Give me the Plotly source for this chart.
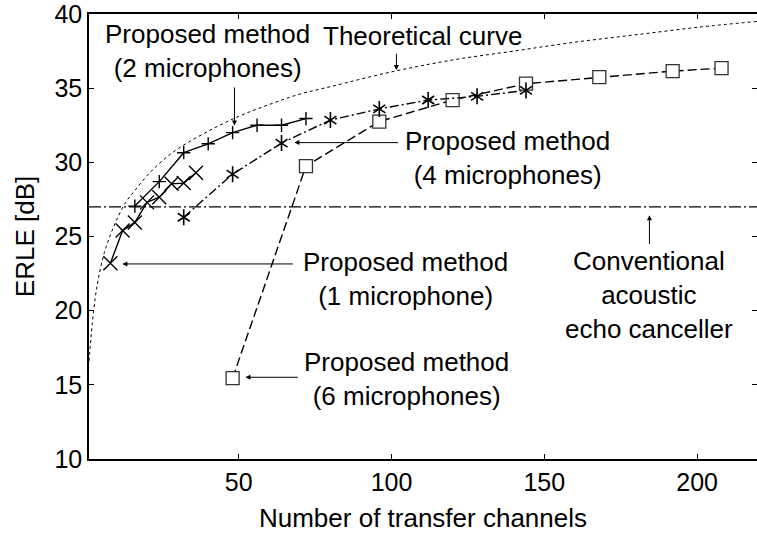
import plotly.graph_objects as go

# ERLE versus number of transfer channels
mic1_x = [8, 12, 16, 20, 24, 28, 32, 36]
mic1_y = [23.2, 25.4, 25.95, 27.3, 27.65, 28.55, 28.6, 29.3]

mic2_x = [16, 24, 32, 40, 48, 56, 64, 72]
mic2_y = [27.05, 28.7, 30.65, 31.25, 32.0, 32.5, 32.5, 32.95]

mic4_x = [32, 48, 64, 80, 96, 112, 128, 144]
mic4_y = [26.3, 29.2, 31.3, 32.85, 33.6, 34.2, 34.45, 34.85]

mic6_x = [48, 72, 96, 120, 144, 168, 192, 208]
mic6_y = [15.45, 29.75, 32.75, 34.2, 35.3, 35.75, 36.15, 36.35]

theory_x = [1, 1.5, 2, 3, 4, 6, 8, 10, 13, 16, 20, 25, 30, 40, 50, 60, 70, 80,
            100, 120, 140, 160, 180, 200, 219.6]
theory_y = [16.6, 17.8, 19.0, 20.8, 22.1, 23.9, 25.1, 26.1, 27.3, 28.1, 29.1, 30.1,
            30.9, 32.1, 33.1, 33.9, 34.6, 35.1, 36.1, 36.9, 37.5, 38.1, 38.6, 39.1, 39.5]

conventional_erle = 27.0

x_range = [1, 219.6]
y_range = [10, 40]
x_ticks = [50, 100, 150, 200]
y_ticks = [10, 15, 20, 25, 30, 35, 40]

FONT = "Liberation Sans, Arial, Helvetica, sans-serif"
BLACK = "#000000"

fig = go.Figure()

# theoretical curve (fine dotted)
fig.add_trace(go.Scatter(
    x=theory_x, y=theory_y, mode="lines",
    line=dict(color=BLACK, width=1, dash="3px,3px", shape="spline"),
    hoverinfo="skip"))

# conventional echo canceller (horizontal dash-dot)
fig.add_trace(go.Scatter(
    x=x_range, y=[conventional_erle, conventional_erle], mode="lines",
    line=dict(color=BLACK, width=1.4, dash="12px,3px,2px,3px"),
    hoverinfo="skip"))

# 6 microphones: dashed, white-filled squares
fig.add_trace(go.Scatter(
    x=mic6_x, y=mic6_y, mode="lines+markers",
    line=dict(color=BLACK, width=1.4, dash="9px,4px"),
    marker=dict(symbol="square", size=13, color="white",
                line=dict(color="#333333", width=1.3))))

# 4 microphones: dash-dot with six-spoke asterisks
fig.add_trace(go.Scatter(
    x=mic4_x, y=mic4_y, mode="lines+markers",
    line=dict(color=BLACK, width=1.4, dash="9px,3px,2px,3px"),
    marker=dict(symbol="y-up-open", size=10, color=BLACK,
                line=dict(color=BLACK, width=1.6))))
fig.add_trace(go.Scatter(
    x=mic4_x, y=mic4_y, mode="markers",
    marker=dict(symbol="y-down-open", size=10, color=BLACK,
                line=dict(color=BLACK, width=1.6))))

# 2 microphones: solid with plus markers
fig.add_trace(go.Scatter(
    x=mic2_x, y=mic2_y, mode="lines+markers",
    line=dict(color=BLACK, width=1.4),
    marker=dict(symbol="cross-thin-open", size=9.5, color=BLACK,
                line=dict(color=BLACK, width=1.4))))

# 1 microphone: solid with x markers
fig.add_trace(go.Scatter(
    x=mic1_x, y=mic1_y, mode="lines+markers",
    line=dict(color=BLACK, width=1.4),
    marker=dict(symbol="x-thin-open", size=14, color=BLACK,
                line=dict(color=BLACK, width=1.4))))

# text labels
labels = [
    ("Theoretical curve", 110.1, 38.49),
    ("Proposed method<br>(2 microphones)", 39.7, 37.52),
    ("Proposed method<br>(4 microphones)", 137.9, 30.29),
    ("Proposed method<br>(1 microphone)", 104.5, 22.12),
    ("Conventional<br>acoustic<br>echo canceller", 184.4, 21.07),
    ("Proposed method<br>(6 microphones)", 104.9, 15.4),
]
for text, lx, ly in labels:
    fig.add_annotation(x=lx, y=ly, text=text, showarrow=False,
                       xanchor="center", yanchor="middle", align="center",
                       font=dict(family=FONT, size=26, color=BLACK))

# pointer arrows: (head_x, head_y, tail_x, tail_y)
arrows = [
    (101.6, 36.22, 101.6, 37.42),
    (48.6, 32.49, 48.6, 35.15),
    (68.2, 31.33, 102.6, 31.33),
    (11.93, 23.15, 68.2, 23.15),
    (184.4, 26.44, 184.4, 24.4),
    (52.2, 15.51, 69.85, 15.51),
]
for hx, hy, tx, ty in arrows:
    fig.add_annotation(x=hx, y=hy, ax=tx, ay=ty, xref="x", yref="y",
                       axref="x", ayref="y", text="", showarrow=True,
                       arrowhead=2, arrowsize=1.0, arrowwidth=1,
                       arrowcolor=BLACK, standoff=0, startstandoff=0)

tick_style = dict(ticks="inside", ticklen=5, tickwidth=1.3, tickcolor=BLACK,
                  showgrid=False, zeroline=False)

fig.update_layout(
    width=757, height=535,
    margin=dict(l=89, r=0, t=9, b=76),
    paper_bgcolor="white", plot_bgcolor="white",
    showlegend=False,
    font=dict(family=FONT, size=26, color=BLACK),
    xaxis=dict(
        range=x_range, tickvals=x_ticks, showline=True, linecolor=BLACK,
        linewidth=1.5, mirror=False, ticklabeloverflow="allow",
        tickfont=dict(family=FONT, size=25, color=BLACK),
        title=dict(text="Number of transfer channels", standoff=14,
                   font=dict(family=FONT, size=26, color=BLACK)),
        **tick_style),
    yaxis=dict(
        range=y_range, tickvals=y_ticks, showline=True, linecolor=BLACK,
        linewidth=1.5, mirror=False, ticklabeloverflow="allow",
        tickfont=dict(family=FONT, size=25, color=BLACK),
        title=dict(text="ERLE [dB]", standoff=12,
                   font=dict(family=FONT, size=26, color=BLACK)),
        **tick_style),
    # top frame line with inward ticks
    xaxis2=dict(
        range=x_range, tickvals=x_ticks, showline=True, linecolor=BLACK,
        linewidth=1.5, showticklabels=False, overlaying="x", side="top",
        anchor="y2", **tick_style),
    # right-hand inward ticks (frame edge lies outside the page)
    yaxis2=dict(
        range=y_range, tickvals=y_ticks, showline=False, showticklabels=False,
        overlaying="y", side="right", anchor="x2", **tick_style),
)

# empty trace bound to the frame axes so they are drawn
fig.add_trace(go.Scatter(x=[None], y=[None], xaxis="x2", yaxis="y2",
                         mode="markers", hoverinfo="skip"))

fig.write_html("out.html")
